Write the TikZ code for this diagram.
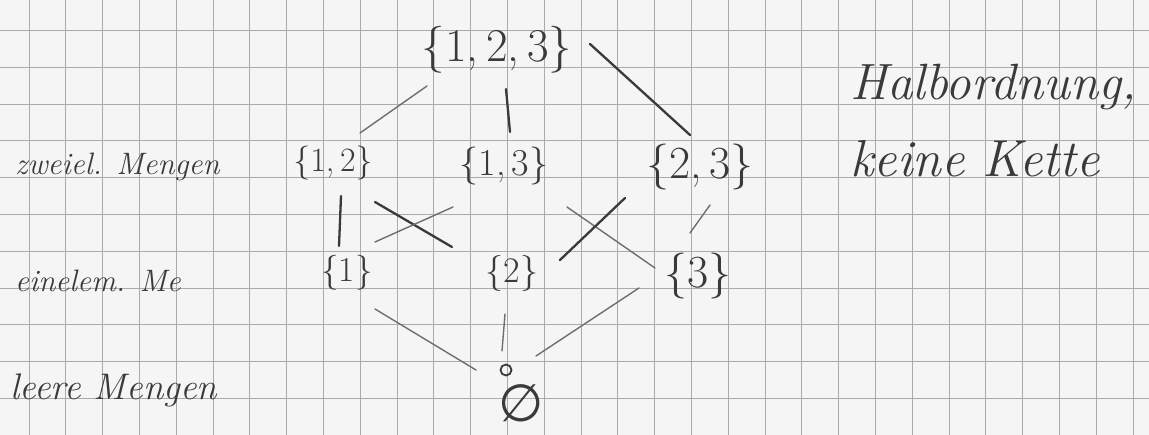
\documentclass[tikz,border=0pt]{standalone}
\usepackage{fontspec}
\newfontfamily\symfnt{DejaVu Sans}
\usetikzlibrary{calc}
\definecolor{paper}{HTML}{F5F5F5}
\definecolor{gridc}{HTML}{ABABAB}
\definecolor{pencil}{HTML}{3A3A3A}
\definecolor{pencillight}{HTML}{6E6E6E}
\tikzset{
  gridline/.style={gridc, line width=1pt},
  setnode/.style={inner sep=0pt, text=pencil},
  lab/.style={inner sep=0pt, text=pencil, anchor=base west},
  heavy/.style={pencil, line width=2.3pt, line cap=round},
  light/.style={pencillight, line width=1.4pt, line cap=round},
}
\begin{document}
\begin{tikzpicture}[x=1pt,y=-1pt]
\fill[paper] (0,0) rectangle (1149,435);
\useasboundingbox (0,0) rectangle (1149,435);
\begin{scope}
\clip (0,0) rectangle (1149,435);
\foreach \i in {0,...,30} \draw[gridline] ({29+36.8*\i},0) -- ++(0,435);
\foreach \j in {0,...,11} \draw[gridline] (0,{30.5+36.8*\j}) -- ++(1149,0);

% set nodes
\node[setnode, font=\fontsize{47}{47}\selectfont] (n123) at (497,50) {\{1,\,2,\,3\}};
\node[setnode, font=\fontsize{34}{34}\selectfont] (n12) at (333,163) {\{1,\,2\}};
\node[setnode, font=\fontsize{38}{38}\selectfont] (n13) at (504,166) {\{1,\,3\}};
\node[setnode, font=\fontsize{46}{46}\selectfont] (n23) at (700,167) {\{2,\,3\}};
\node[setnode, font=\fontsize{35}{35}\selectfont] (n1) at (347,273) {\{1\}};
\node[setnode, font=\fontsize{36}{36}\selectfont] (n2) at (512,274) {\{2\}};
\node[setnode, font=\fontsize{46}{46}\selectfont] (n3) at (698,276) {\{3\}};
\node[draw=pencil, circle, minimum size=11pt, inner sep=0pt, line width=1.8pt] (bot) at (506,370) {};
\node[setnode, font=\symfnt\fontsize{52}{52}\selectfont] (emp) at (521,403) {∅};

% labels
\node[lab, font=\itshape\fontsize{31}{31}\selectfont] (lz) at (15,175) {zweiel. Mengen};
\node[lab, font=\itshape\fontsize{31}{31}\selectfont] (le) at (15,292) {einelem. Me};
\node[lab, font=\itshape\fontsize{37}{37}\selectfont] (ll) at (10,400) {leere Mengen};
\node[lab, font=\itshape\fontsize{51}{51}\selectfont] (hb) at (850,100) {Halbordnung,};
\node[lab, font=\itshape\fontsize{52}{52}\selectfont] (kk) at (850,177) {keine Kette};

% connectors
\draw[light] ($(n123)+(-70,36)$) -- ($(n12)+(27,-30)$);
\draw[heavy] ($(n123)+(9,39)$) -- ($(n13)+(6,-34)$);
\draw[heavy] ($(n123)+(93,-6)$) -- ($(n23)+(-10,-32)$);
\draw[heavy] ($(n12)+(8,33)$) -- ($(n1)+(-8,-27)$);
\draw[heavy] ($(n12)+(42,39)$) -- ($(n2)+(-60,-27)$);
\draw[light] ($(n13)+(-51,41)$) -- ($(n1)+(28,-31)$);
\draw[light] ($(n13)+(63,41)$) -- ($(n3)+(-43,-8)$);
\draw[heavy] ($(n23)+(-75,31)$) -- ($(n2)+(48,-14)$);
\draw[light] ($(n23)+(10,38)$) -- ($(n3)+(-8,-43)$);
\draw[light] ($(n1)+(28,36)$) -- ($(bot)+(-30,0)$);
\draw[light] ($(n2)+(-7,40)$) -- ($(bot)+(-4,-19)$);
\draw[light] ($(n3)+(-59,12)$) -- ($(bot)+(30,-14)$);
\end{scope}
\end{tikzpicture}
\end{document}
